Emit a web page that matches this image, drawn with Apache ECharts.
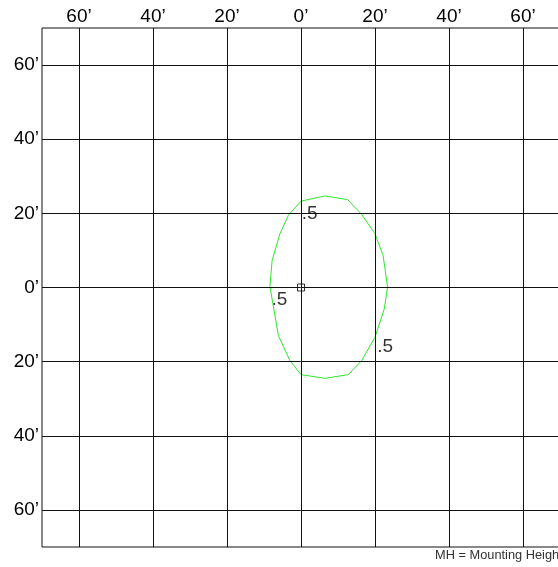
<!DOCTYPE html>
<html>
<head>
<meta charset="utf-8">
<script src="https://cdn.jsdelivr.net/npm/echarts@6/dist/echarts.min.js"></script>
<style>
html,body{margin:0;padding:0;background:#fff;}
#c{width:558px;height:567px;}
</style>
</head>
<body>
<div id="c"></div>
<script>
// Grid tick values (feet)
const gridTicks = [-60, -40, -20, 0, 20, 40, 60];
// Iso-line contour (.5 level), x/y in feet
const contourX = [6.5, 12.6, 16.4, 20.0, 22.2, 23.4, 22.5, 20.0, 16.4, 12.8, 6.5, 0, -3.0, -6.1, -8.4, -7.8, -5.7, -3.4, 0, 6.5];
const contourY = [24.7, 23.7, 19.7, 14.5, 8.6, 0.1, -5.8, -13.4, -19.7, -23.5, -24.5, -23.5, -19.7, -13.0, 0.3, 7.3, 14.5, 19.5, 23.3, 24.7];
// Contour labels
const labelX = [0.2, -8.0, 20.6];
const labelY = [20.0, -3.3, -16.0];
const labelText = ['.5', '.5', '.5'];
// Luminaire position
const fixtureX = [0];
const fixtureY = [0];

const fmt = v => (v % 20 === 0 && Math.abs(v) <= 60) ? Math.abs(v) + '\u2019' : '';

const chart = echarts.init(document.getElementById('c'), null, {renderer: 'canvas'});
chart.setOption({
  animation: false,
  backgroundColor: '#fff',
  textStyle: {fontFamily: 'Liberation Sans, Arial, sans-serif'},
  grid: {left: 42, top: 28, width: 518, height: 519, show: true, borderColor: '#111', borderWidth: 1, backgroundColor: 'transparent', containLabel: false, outerBoundsMode: 'none'},
  xAxis: {
    type: 'value', position: 'top', min: -70, max: 70, interval: 10,
    axisLine: {show: false}, axisTick: {show: false}, splitLine: {show: false},
    axisLabel: {formatter: fmt, color: '#000', fontSize: 19, margin: 2, fontFamily: 'Liberation Sans'}
  },
  yAxis: {
    type: 'value', min: -70, max: 70, interval: 10,
    axisLine: {show: false}, axisTick: {show: false}, splitLine: {show: false},
    axisLabel: {formatter: fmt, color: '#000', fontSize: 19, margin: 3, padding: [0, 0, 8, 0], fontFamily: 'Liberation Sans'}
  },
  series: [
    {
      type: 'line', data: [], silent: true,
      markLine: {
        silent: true, symbol: 'none', animation: false,
        label: {show: false},
        lineStyle: {color: '#111', width: 1, type: 'solid'},
        data: gridTicks.map(v => ({xAxis: v})).concat(gridTicks.map(v => ({yAxis: v})))
      }
    },
    {
      type: 'line', silent: true, symbol: 'none',
      lineStyle: {color: '#2fe62f', width: 1},
      data: contourX.map((x, i) => [x, contourY[i]])
    },
    {
      type: 'scatter', silent: true, symbol: 'rect', symbolSize: 7,
      itemStyle: {color: 'rgba(0,0,0,0)', borderColor: '#000', borderWidth: 1},
      data: fixtureX.map((x, i) => [x, fixtureY[i]])
    },
    {
      type: 'scatter', silent: true, symbolSize: 0,
      label: {
        show: true, position: 'right', distance: 0, align: 'left', verticalAlign: 'middle',
        color: '#000', fontSize: 19, fontFamily: 'Liberation Sans',
        formatter: p => labelText[p.dataIndex]
      },
      data: labelX.map((x, i) => [x, labelY[i]])
    }
  ],
  graphic: [
    {type: 'text', left: 435, top: 549, style: {text: 'MH = Mounting Height', fill: '#333', fontSize: 12.8, fontFamily: 'Liberation Sans'}}
  ]
});
</script>
</body>
</html>
